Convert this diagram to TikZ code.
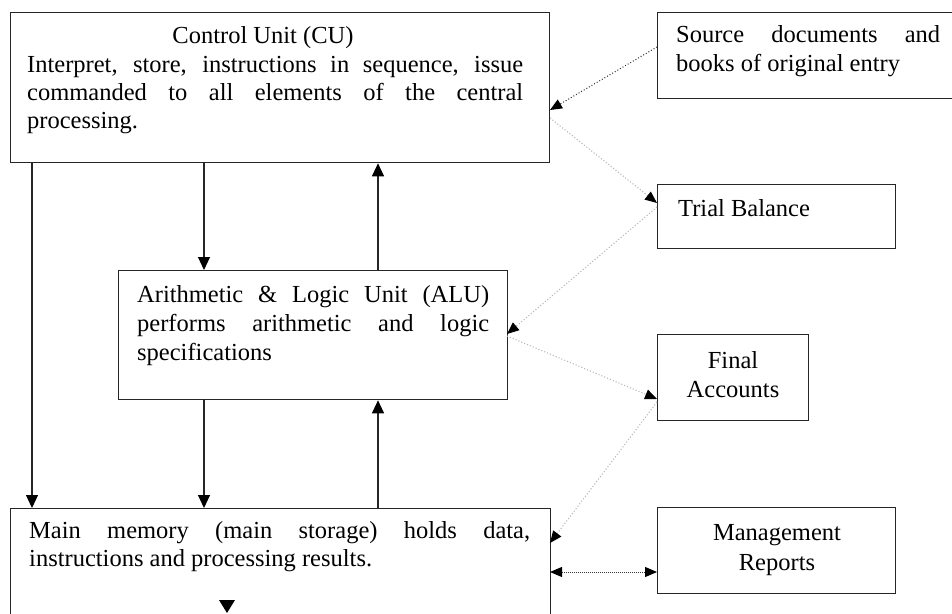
\documentclass[tikz,border=0pt]{standalone}
\usepackage{fontspec}
\setmainfont{Liberation Serif}
\usetikzlibrary{arrows.meta}
\begin{document}
\begin{tikzpicture}[x=1pt,y=-1pt,
  box/.style={draw=black!85,line width=1.3pt,anchor=north west,inner sep=0pt},
  txt/.style={anchor=base west,inner sep=0pt,font=\fontsize{24.5pt}{29pt}\selectfont},
  ctxt/.style={anchor=base,inner sep=0pt,font=\fontsize{24.5pt}{29pt}\selectfont},
  arr/.style={draw=black!85,line width=1.1pt,-{Triangle[length=13pt,width=12pt,color=black]}},
  garr/.style={draw=gray!55,dotted,line width=1.1pt,-{Triangle[length=12pt,width=10pt,color=black]}},
  darr/.style={draw=black!80,dotted,line width=1pt,-{Triangle[length=12pt,width=10pt,color=black]}},
  dbarr/.style={draw=black!80,densely dotted,line width=1pt,{Triangle[length=12pt,width=10pt,color=black]}-{Triangle[length=12pt,width=10pt,color=black]}}
]
\useasboundingbox (0,0) rectangle (952,613);
\clip (0,0) rectangle (952,613);
% boxes
\node[box,minimum width=539pt,minimum height=150pt] (cu) at (10,12) {};
\node[box,minimum width=320pt,minimum height=86pt] (src) at (657,12) {};
\node[box,minimum width=238pt,minimum height=64pt] (tb) at (657,184) {};
\node[box,minimum width=389pt,minimum height=129pt] (alu) at (118,270) {};
\node[box,minimum width=151pt,minimum height=86pt] (fa) at (657,334) {};
\node[box,minimum width=540pt,minimum height=130pt] (mm) at (10,508) {};
\node[box,minimum width=238pt,minimum height=86pt] (mr) at (657,507) {};
% texts
\node[ctxt] (cut) at (263,43) {Control Unit (CU)};
\node[txt] (cu1) at (27,72) {\makebox[496pt][s]{Interpret, store, instructions in sequence, issue}};
\node[txt] (cu2) at (27,100) {\makebox[496pt][s]{commanded to all elements of the central}};
\node[txt] (cu3) at (27,128) {processing.};
\node[txt] (src1) at (676,42) {\makebox[264pt][s]{Source documents and}};
\node[txt] (src2) at (676,71) {books of original entry};
\node[txt] (tb1) at (678,216) {Trial Balance};
\node[txt] (alu1) at (137,302) {\makebox[352pt][s]{Arithmetic \& Logic Unit (ALU)}};
\node[txt] (alu2) at (137,331) {\makebox[352pt][s]{performs arithmetic and logic}};
\node[txt] (alu3) at (137,360) {specifications};
\node[ctxt] (fa1) at (733,368) {Final};
\node[ctxt] (fa2) at (733,397) {Accounts};
\node[ctxt] (mr1) at (777,540) {Management};
\node[ctxt] (mr2) at (777,570) {Reports};
\node[txt] (mm1) at (29,538) {\makebox[501pt][s]{Main memory (main storage) holds data,}};
\node[txt] (mm2) at (29,566) {instructions and processing results.};
% column coordinates
\coordinate (xa) at (32,0);
\coordinate (xb) at (204,0);
\coordinate (xc) at (378,0);
% vertical arrows
\draw[arr] (cu.south -| xa) -- (mm.north -| xa);
\draw[arr] (cu.south -| xb) -- (alu.north -| xb);
\draw[arr] (alu.north -| xc) -- (cu.south -| xc);
\draw[arr] (alu.south -| xb) -- (mm.north -| xb);
\draw[arr] (mm.north -| xc) -- (alu.south -| xc);
% side connectors
\coordinate (s1) at (657,47);
\coordinate (c1) at (550,110);
\draw[darr] (s1) -- (c1);
\coordinate (c2) at (550,118);
\coordinate (t1) at (657,203);
\draw[garr] (c2) -- (t1);
\coordinate (t2) at (657,207);
\coordinate (a1) at (507,334);
\draw[garr] (t2) -- (a1);
\coordinate (a2) at (507,336);
\coordinate (f1) at (657,399);
\draw[garr] (a2) -- (f1);
\coordinate (f2) at (657,402);
\coordinate (m1) at (550,543);
\draw[garr] (f2) -- (m1);
\coordinate (m2) at (550,572);
\coordinate (r1) at (657,572);
\draw[dbarr] (m2) -- (r1);
% small triangle
\fill[black] (219,600) -- (235,600) -- (227,613) -- cycle;
\end{tikzpicture}
\end{document}
